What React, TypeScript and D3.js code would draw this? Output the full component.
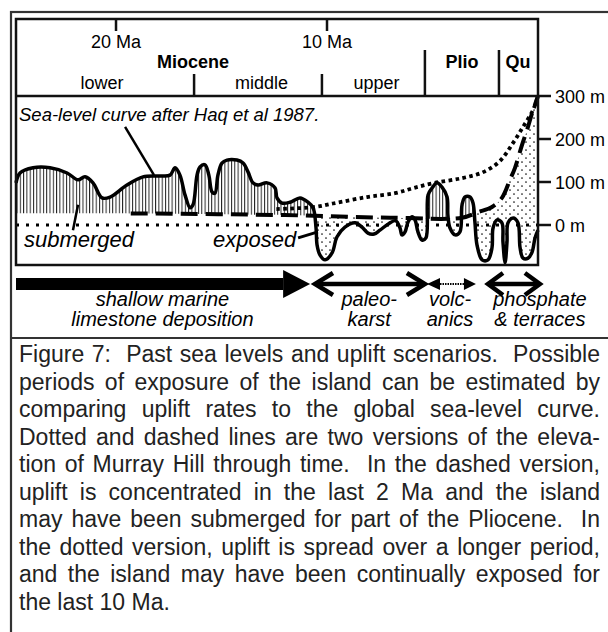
import React from "react";
import * as d3 from "d3";

// sea-level curve after Haq et al 1987 (age in Ma, level in m)
const seaAge = [
  24.74, 24.55, 23.93, 23.13, 22.32, 21.8, 21.47, 21.09, 20.66, 20.28, 19.48, 18.72, 17.91, 17.44,
  17.2, 16.97, 16.73, 16.49, 16.35, 16.16, 16.02, 15.78, 15.6, 15.45, 15.31, 15.17, 14.98, 14.74,
  14.27, 13.98, 13.74, 13.51, 13.27, 12.84, 12.46, 12.37, 12.13, 11.75, 11.28, 10.9, 10.66, 10.52,
  10.47, 10.33, 10.09, 9.76, 9.53, 9.15, 8.67, 8.34, 8.06, 7.77, 7.49, 7.11, 6.75, 6.54, 6.45, 6.3,
  6.16, 5.97, 5.83, 5.69, 5.5, 5.31, 5.21, 5.02, 4.79, 4.55, 4.31, 4.27, 4.17, 3.93, 3.7, 3.6, 3.46,
  3.22, 3.08, 2.99, 2.89, 2.65, 2.37, 2.18, 2.13, 1.94, 1.71, 1.66, 1.56, 1.47, 1.42, 1.18, 0.95,
  0.85, 0.71, 0.47, 0.28, 0.14, 0,
];
const seaLevel = [
  98, 121, 133, 133, 121, 105, 112, 98, 63, 65, 93, 112, 114, 116,
  133, 116, 70, 40, 47, 116, 135, 140, 116, 77, 74, 116, 144, 151,
  151, 144, 123, 98, 93, 98, 86, 63, 51, 53, 63, 53, 40, -7,
  -47, -70, -81, -65, -28, -5, 5, -5, -19, -21, -12, 2, 10, -7, -23, -16,
  7, 19, 12, -16, -35, -30, 70, 86, 98, 88, 65, 23, -7, -23, -16, 47, 65,
  65, 51, 7, -47, -81, -81, -53, -7, 12, 5, -40, -88, -40, 5, 16, 5,
  -53, -77, -77, -63, -30, -12,
];

// elevation of Murray Hill, dashed version
const dashedAge = [19.3, 12, 7, 3.6, 2.84, 2.18, 1.71, 1.33, 1.09, 0.76, 0.52, 0.28, 0];
const dashedLevel = [27, 23, 17, 17, 30, 42, 63, 105, 133, 186, 221, 260, 300];

// elevation of Murray Hill, dotted version
const dottedAge = [12.4, 10.57, 9.72, 8.1, 6.78, 5.9, 4.9, 3.6, 2.6, 1.8, 1.18, 0.71, 0.24, 0];
const dottedLevel = [37, 42, 50, 65, 74, 86, 98, 109, 123, 149, 191, 228, 267, 300];

const levelTicks = [300, 200, 100, 0];
const ageTicks = [20, 10];
const seriesBounds = [16.3, 10.24];
const epochBounds = [5.36, 1.85];
const seriesNames = ["lower", "middle", "upper"];
const seriesLabelAge = [20.66, 13.1, 7.65];
const epochNames = ["Miocene", "Plio", "Qu"];
const epochLabelAge = [16.35, 3.6, 0.95];

const processStart = [24.74, 10.57, 5.26, 2.37];
const processEnd = [10.8, 5.36, 2.94, -0.09];
const processLine1 = ["shallow marine", "paleo-", "volc-", "phosphate"];
const processLine2 = ["limestone deposition", "karst", "anics", "& terraces"];
const processLabelAge = [17.8, 8.0, 4.17, -0.09];

const captionLines = [
  "Figure 7:  Past sea levels and uplift scenarios.  Possible",
  "periods of exposure of the island can be estimated by",
  "comparing uplift rates to the global sea-level curve.",
  "Dotted and dashed lines are two versions of the eleva-",
  "tion of Murray Hill through time.  In the dashed version,",
  "uplift is concentrated in the last 2 Ma and the island",
  "may have been submerged for part of the Pliocene.  In",
  "the dotted version, uplift is spread over a longer period,",
  "and the island may have been continually exposed for",
  "the last 10 Ma.",
];

const font = "'Liberation Sans', Arial, Helvetica, sans-serif";
const captionSize = 23;
const captionWidth = 581;

const zip = (a: number[], b: number[]) => a.map((v, i) => [v, b[i]] as [number, number]);

// extra space per word gap so that a caption line is justified
const measureCtx = document.createElement("canvas").getContext("2d");
const justify = (t: string) => {
  if (!measureCtx) return 0;
  measureCtx.font = `${captionSize}px 'Liberation Sans', Arial, sans-serif`;
  const w = measureCtx.measureText(t).width;
  const gaps = (t.match(/ /g) || []).length;
  return gaps ? (captionWidth - w) / gaps : 0;
};

export default function App() {
  const x = d3.scaleLinear().domain([24.74, 0]).range([16, 538]);
  const y = d3.scaleLinear().domain([0, 300]).range([225, 96]);
  const boxTop = 19;
  const yBottom = 265;

  const sea = zip(seaAge, seaLevel);
  const dashed = zip(dashedAge, dashedLevel);
  const dashedFull = [[24.74, 27] as [number, number], ...dashed];
  const dotted = zip(dottedAge, dottedLevel);

  const curve = d3.curveCatmullRom.alpha(0.5);
  const line = d3
    .line<[number, number]>()
    .x((d) => x(d[0]))
    .y((d) => y(d[1]))
    .curve(curve);
  const areaTo = (base: number) =>
    d3
      .area<[number, number]>()
      .x((d) => x(d[0]))
      .y0(base)
      .y1((d) => y(d[1]))
      .curve(curve);

  const belowSea = areaTo(yBottom)(sea) || "";
  const aboveSea = areaTo(y(300))(sea) || "";
  const aboveDashed = areaTo(y(300))(dashedFull) || "";
  const belowDashed = areaTo(yBottom)(dashedFull) || "";

  const arrowY = 284;

  return (
    <svg
      width={608}
      height={632}
      style={{ position: "absolute", left: 0, top: 0, background: "#fff" }}
      fontFamily={font}
    >
      <defs>
        <pattern id="hatch" width={3.3} height={10} patternUnits="userSpaceOnUse">
          <line x1={0.5} x2={0.5} y1={0} y2={10} stroke="#222" strokeWidth={1} />
        </pattern>
        <pattern id="stipple" width={8} height={8} patternUnits="userSpaceOnUse">
          <circle cx={2} cy={2} r={0.85} fill="#111" />
          <circle cx={6} cy={6} r={0.85} fill="#111" />
        </pattern>
        <clipPath id="belowSea">
          <path d={belowSea} />
        </clipPath>
        <clipPath id="aboveSea">
          <path d={aboveSea} />
        </clipPath>
        <clipPath id="aboveDashed">
          <path d={aboveDashed} />
        </clipPath>
        <clipPath id="belowDashed">
          <path d={belowDashed} />
        </clipPath>
      </defs>

      <rect x={0} y={0} width={608} height={632} fill="#fff" />

      {/* outer frame */}
      <rect x={11} y={12} width={640} height={660} fill="none" stroke="#333" strokeWidth={2.2} />
      <line x1={11} x2={608} y1={338} y2={338} stroke="#333" strokeWidth={2.2} />

      {/* submerged: hatch */}
      <g clipPath="url(#belowSea)">
        <g clipPath="url(#aboveDashed)">
          <rect x={16} y={96} width={522} height={169} fill="url(#hatch)" />
        </g>
      </g>
      {/* exposed: stipple */}
      <g clipPath="url(#aboveSea)">
        <g clipPath="url(#belowDashed)">
          <rect x={x(10.8)} y={96} width={538 - x(10.8)} height={169} fill="url(#stipple)" />
        </g>
      </g>

      {/* present sea level */}
      <path
        d={line([[24.74, 0], [0, 0]]) || ""}
        fill="none"
        stroke="#000"
        strokeWidth={3}
        strokeDasharray="3 7"
      />
      <path
        d={line(dotted) || ""}
        fill="none"
        stroke="#000"
        strokeWidth={3.8}
        strokeDasharray="3.6 3.4"
      />
      <path
        d={line(dashed) || ""}
        fill="none"
        stroke="#000"
        strokeWidth={4}
        strokeDasharray="17 8"
      />
      <path d={line(sea) || ""} fill="none" stroke="#000" strokeWidth={3.5} strokeLinejoin="round" />

      {/* box and header */}
      <rect x={16} y={boxTop} width={522} height={yBottom - boxTop} fill="none" stroke="#111" strokeWidth={2.5} />
      <line x1={16} x2={538} y1={y(300)} y2={y(300)} stroke="#111" strokeWidth={2.5} />
      {ageTicks.map((a) => (
        <g key={a}>
          <line x1={x(a)} x2={x(a)} y1={boxTop} y2={31} stroke="#111" strokeWidth={2.5} />
          <text x={x(a)} y={48} fontSize={18} textAnchor="middle">
            {a} Ma
          </text>
        </g>
      ))}
      {seriesBounds.map((a) => (
        <line key={a} x1={x(a)} x2={x(a)} y1={74} y2={y(300)} stroke="#111" strokeWidth={2.5} />
      ))}
      {epochBounds.map((a) => (
        <line key={a} x1={x(a)} x2={x(a)} y1={50} y2={y(300)} stroke="#111" strokeWidth={2.5} />
      ))}
      {seriesNames.map((n, i) => (
        <text key={n} x={x(seriesLabelAge[i])} y={89} fontSize={18} textAnchor="middle">
          {n}
        </text>
      ))}
      {epochNames.map((n, i) => (
        <text key={n} x={x(epochLabelAge[i])} y={68} fontSize={18} fontWeight="bold" textAnchor="middle">
          {n}
        </text>
      ))}

      {/* right axis */}
      {levelTicks.map((t) => (
        <g key={t}>
          <line x1={538} x2={551} y1={y(t)} y2={y(t)} stroke="#111" strokeWidth={2.5} />
          <text x={555} y={y(t) + 6.5} fontSize={18}>
            {t} m
          </text>
        </g>
      ))}

      {/* annotations */}
      <text x={19} y={121} fontSize={18.5} fontStyle="italic">
        Sea-level curve after Haq et al 1987.
      </text>
      <line x1={x(19.57)} y1={y(228)} x2={x(18.2)} y2={y(116)} stroke="#000" strokeWidth={2.5} />
      <text x={24} y={247} fontSize={22} fontStyle="italic">
        submerged
      </text>
      <line x1={x(22.04)} y1={y(-12)} x2={x(21.8)} y2={y(47)} stroke="#000" strokeWidth={2.5} />
      <text x={213} y={247} fontSize={22} fontStyle="italic">
        exposed
      </text>
      <line x1={x(11.37)} y1={y(-30)} x2={x(10.43)} y2={y(-16)} stroke="#000" strokeWidth={3} />

      {/* processes */}
      <rect x={x(processStart[0])} y={arrowY - 6} width={x(processEnd[0]) - 27 - x(processStart[0])} height={12} fill="#000" />
      <path
        d={`M${x(processEnd[0]) - 27},${arrowY - 14}L${x(processEnd[0])},${arrowY}L${x(processEnd[0]) - 27},${arrowY + 14}Z`}
        fill="#000"
      />
      {[1, 3].map((i) => {
        const a = x(processStart[i]);
        const b = x(processEnd[i]);
        const h = i === 1 ? 18 : 15;
        return (
          <g key={i} fill="none" stroke="#000" strokeWidth={4.5}>
            <line x1={a + 2} x2={b - 2} y1={arrowY} y2={arrowY} />
            <path d={`M${a + h},${arrowY - 11}L${a},${arrowY}L${a + h},${arrowY + 11}`} />
            <path d={`M${b - h},${arrowY - 11}L${b},${arrowY}L${b - h},${arrowY + 11}`} />
          </g>
        );
      })}
      <g>
        <path
          d={`M${x(processStart[2])},${arrowY}L${x(processStart[2]) + 13},${arrowY - 6}L${x(processStart[2]) + 13},${arrowY + 6}Z`}
          fill="#000"
        />
        <path
          d={`M${x(processEnd[2])},${arrowY}L${x(processEnd[2]) - 12},${arrowY - 6}L${x(processEnd[2]) - 12},${arrowY + 6}Z`}
          fill="#000"
        />
        <line
          x1={x(processStart[2]) + 13}
          x2={x(processEnd[2]) - 12}
          y1={arrowY}
          y2={arrowY}
          stroke="#000"
          strokeWidth={2}
          strokeDasharray="1.5 1"
        />
      </g>
      {processLine1.map((t, i) => (
        <g key={t} fontSize={20} fontStyle="italic" textAnchor="middle">
          <text x={x(processLabelAge[i])} y={306}>
            {t}
          </text>
          <text x={x(processLabelAge[i])} y={326}>
            {processLine2[i]}
          </text>
        </g>
      ))}

      {/* caption */}
      {captionLines.map((t, i) => (
        <text
          key={i}
          x={19}
          y={362 + i * 27.5}
          fontSize={captionSize}
          fill="#222"
          wordSpacing={i < captionLines.length - 1 ? justify(t) : 0}
          style={{ whiteSpace: "pre" }}
        >
          {t}
        </text>
      ))}
    </svg>
  );
}
